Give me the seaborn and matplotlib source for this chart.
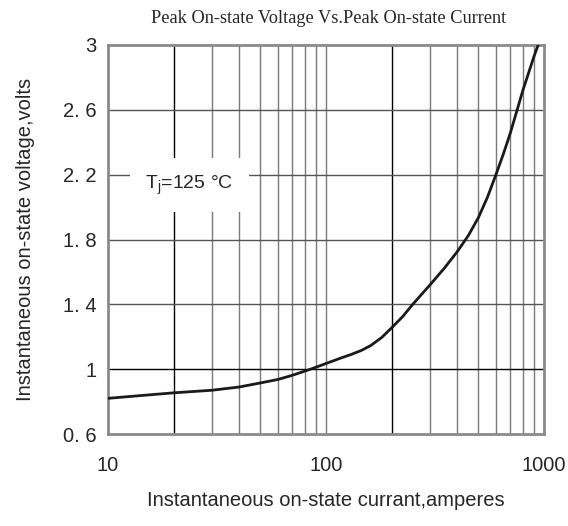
import numpy as np
import pandas as pd
import matplotlib
matplotlib.use("Agg")
import matplotlib.pyplot as plt
import seaborn as sns

# curve (current in A, voltage in V)
current = [10, 15, 20, 30, 40, 50, 60, 70, 85, 100, 115, 130, 145, 160, 180,
           200, 225, 250, 300, 350, 400, 450, 500, 550, 600, 650, 700, 800,
           900, 940]
voltage = [0.82, 0.84, 0.854, 0.87, 0.89, 0.915, 0.936, 0.962, 1.0, 1.035,
           1.065, 1.09, 1.115, 1.145, 1.195, 1.255, 1.325, 1.40, 1.52, 1.625,
           1.725, 1.825, 1.935, 2.06, 2.195, 2.325, 2.455, 2.72, 2.93, 3.0]

y_ticks = [0.6, 1.0, 1.4, 1.8, 2.2, 2.6, 3.0]
y_labels = ["0. 6", "1", "1. 4", "1. 8", "2. 2", "2. 6", "3"]
x_ticks = [10, 100, 1000]
x_labels = ["10", "100", "1000"]

df = pd.DataFrame({"current": current, "voltage": voltage})

sns.set_style("white")
plt.rcParams["font.family"] = ["Liberation Sans", "DejaVu Sans"]

fig = plt.figure(figsize=(5.68, 5.26), dpi=100)
ax = fig.add_axes([108/568, 1-434/526, 436/568, 389/526])

#grid lines
for x in [20, 30, 40, 50, 60, 70, 80, 90, 100, 200, 300, 400, 500, 600, 700, 800, 900]:
    c = "black" if x in (20, 200) else "#7a7a7a"
    ax.axvline(x, color=c, lw=1.0, zorder=1)
for y in y_ticks[1:-1]:
    c = "black" if y == 1.0 else "#555555"
    ax.axhline(y, color=c, lw=1.0, zorder=1)

sns.lineplot(data=df, x="current", y="voltage", color="#1a1a1a", lw=2.0, ax=ax, zorder=3)

ax.set_xscale("log")
ax.set_xlim(10, 1000)
ax.set_ylim(0.6, 3.0)
ax.set_xticks(x_ticks)
ax.set_xticklabels(x_labels)
ax.xaxis.set_minor_locator(matplotlib.ticker.NullLocator())
ax.set_yticks(y_ticks)
ax.set_yticklabels(y_labels)
ax.tick_params(axis="both", length=0, labelsize=14.5, pad=8)
ax.tick_params(axis="x", pad=16)

for s in ax.spines.values():
    s.set_color("#8a8a8a")
    s.set_linewidth(2.0)

ax.set_xlabel("Instantaneous on-state currant,amperes", fontsize=14.5, labelpad=11)
ax.set_ylabel("Instantaneous on-state voltage,volts", fontsize=14.5, labelpad=20)

fig.text(0.578, 0.965, "Peak On-state Voltage Vs.Peak On-state Current",
         ha="center", va="center", fontsize=13.2, family="Liberation Serif")

ax.text(14.8, 2.135, "T$_\\mathregular{j}$=125 °C ", fontsize=14, va="center", ha="left",
        zorder=4, bbox=dict(facecolor="white", edgecolor="none", pad=11))

fig.savefig("out.png", dpi=100)
